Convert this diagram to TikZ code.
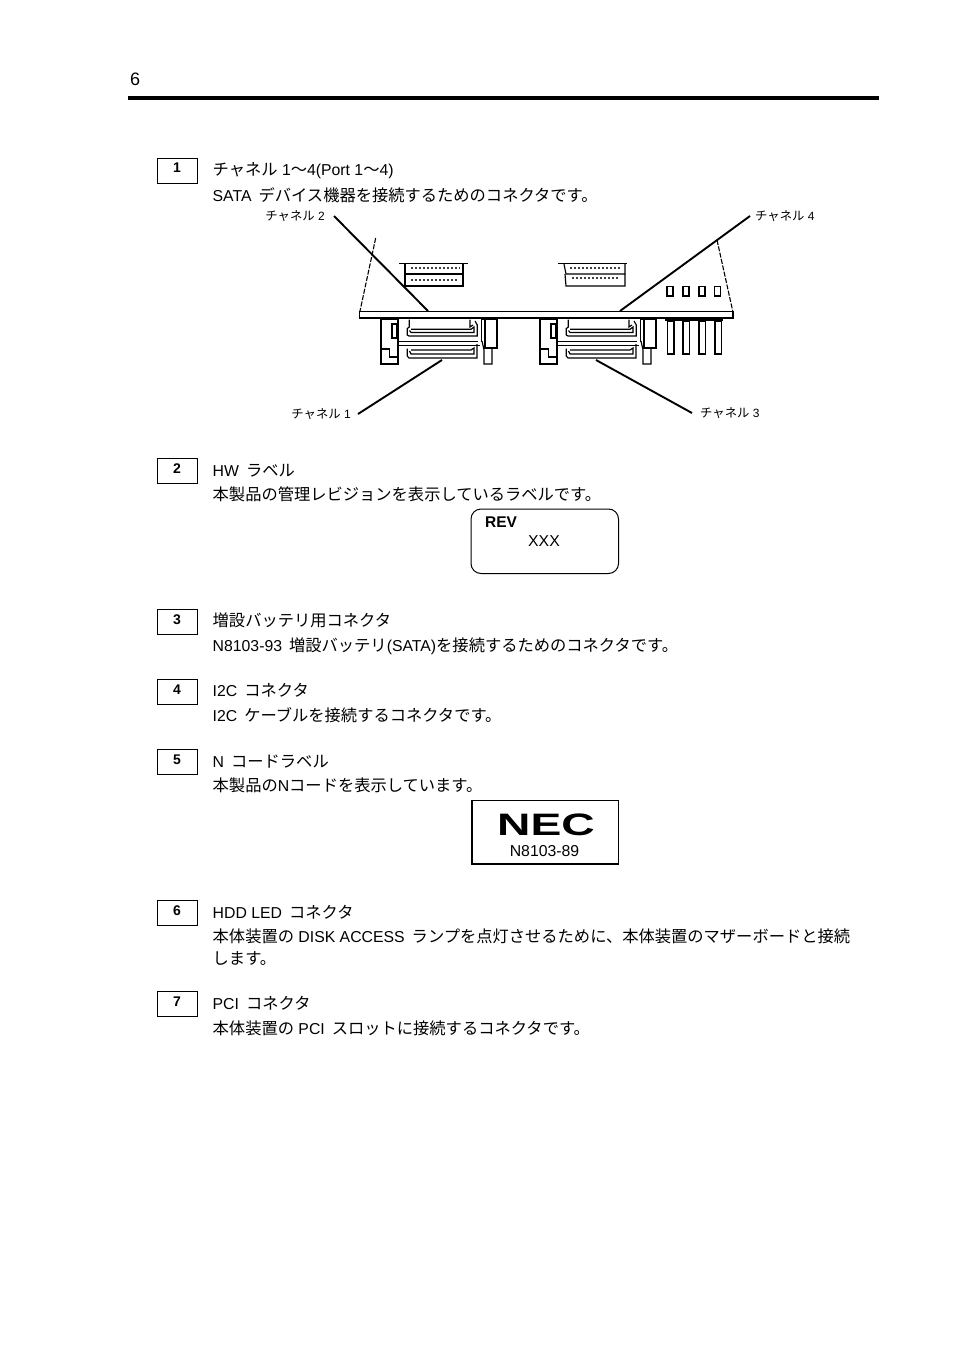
\documentclass[tikz,border=0pt]{standalone}
\usepackage{fontspec}
\setmainfont{Liberation Sans}
\newfontfamily\jp[Scale=1.03]{Noto Sans CJK JP}
\newcommand{\J}[1]{{\jp #1}}
\tikzset{
  txt/.style={anchor=base west,inner sep=0pt,font=\fontsize{15.8}{18}\selectfont},
  numbox/.style={draw,line width=1pt,minimum width=40pt,minimum height=25pt,inner sep=0pt,anchor=north west},
  numtxt/.style={anchor=base,inner sep=0pt,font=\bfseries\fontsize{14}{16}\selectfont},
  small/.style={inner sep=0pt,font=\fontsize{12}{14}\selectfont},
  leader/.style={line width=1.9pt},
  art/.style={line width=1.15pt},
  artb/.style={line width=1.7pt},
  artd/.style={line width=1.1pt,dash pattern=on 5pt off 1.5pt},
  fuzz/.style={line width=1.1pt,dash pattern=on 1.5pt off 2.5pt,black!75},
}
\newcommand{\connector}[1]{%
\begin{scope}[xshift=#1pt]
 \draw[art] (381,319) rectangle (398,364);
 \draw[art] (392,324) rectangle (397,338);
 \draw[art] (381,349) -- (389.5,349) -- (389.5,357) -- (398,357);
 \draw[art] (409.3,319.5) -- (409.3,327) -- (407.3,328.5) -- (407.3,335) -- (409,336) -- (477.3,336) -- (477.3,325) -- (475,321);
 \draw[art] (470,319.5) -- (470,327) -- (473,325);
 \draw[art] (411,329.3) -- (471,329.3) -- (474,327) -- (474,332.5) -- (411,332.5) -- (409.5,330.5);
 \draw[art] (398,341.7) -- (478,341.7);
 \draw[art] (398,345.7) -- (480,345.7);
 \draw[art] (407.3,348.5) -- (407.3,356) -- (409,358) -- (477,358) -- (477,344);
 \draw[art] (411,350) -- (471,350) -- (474,348) -- (474,354) -- (411,354) -- (409.5,351);
 \draw[art] (482,319) -- (497,319) -- (497,348) -- (485,348) -- (485,319);
 \draw[art] (481.5,319) -- (481.5,342);
 \draw[art] (482,341) -- (484,350) -- (484,364) -- (492,364) -- (492,348);
\end{scope}}
\begin{document}
\begin{tikzpicture}[x=1pt,y=-1pt]
\useasboundingbox (0,0) rectangle (954,1351);
\fill[white] (0,0) rectangle (954,1351);
% header
\node[txt,font=\fontsize{18}{20}\selectfont] (pg) at (130,86) {6};
\fill (128,96) rectangle (879,100);
% numbered boxes
\node[numbox] (b1) at (157,158) {}; \node[numtxt] (n1) at (177,173) {1};
\node[numbox] (b2) at (157,458) {}; \node[numtxt] (n2) at (177,473) {2};
\node[numbox] (b3) at (157,609) {}; \node[numtxt] (n3) at (177,624) {3};
\node[numbox] (b4) at (157,679) {}; \node[numtxt] (n4) at (177,694) {4};
\node[numbox] (b5) at (157,749) {}; \node[numtxt] (n5) at (177,764) {5};
\node[numbox] (b6) at (157,900) {}; \node[numtxt] (n6) at (177,915) {6};
\node[numbox] (b7) at (157,991) {}; \node[numtxt] (n7) at (177,1006) {7};
% text
\node[txt] (t1a) at (212.5,176) {\J{チャネル} 1\J{〜}4(Port 1\J{〜}4)};
\node[txt] (t1b) at (212.5,201) {SATA \,\J{デバイス機器を接続するためのコネクタです。}};
\node[txt] (t2a) at (212.5,476) {HW \,\J{ラベル}};
\node[txt] (t2b) at (212.5,500) {\J{本製品の管理レビジョンを表示しているラベルです。}};
\node[txt] (t3a) at (212.5,626) {\J{増設バッテリ用コネクタ}};
\node[txt] (t3b) at (212.5,651) {N8103-93 \,\J{増設バッテリ}(SATA)\J{を接続するためのコネクタです。}};
\node[txt] (t4a) at (212.5,696) {I2C \,\J{コネクタ}};
\node[txt] (t4b) at (212.5,721) {I2C \,\J{ケーブルを接続するコネクタです。}};
\node[txt] (t5a) at (212.5,767) {N \,\J{コードラベル}};
\node[txt] (t5b) at (212.5,791) {\J{本製品の}N\J{コードを表示しています。}};
\node[txt] (t6a) at (212.5,918) {HDD LED \,\J{コネクタ}};
\node[txt] (t6b) at (212.5,942) {\J{本体装置の} DISK ACCESS \,\J{ランプを点灯させるために、本体装置のマザーボードと接続}};
\node[txt] (t6c) at (212.5,964) {\J{します。}};
\node[txt] (t7a) at (212.5,1009) {PCI \,\J{コネクタ}};
\node[txt] (t7b) at (212.5,1034) {\J{本体装置の} PCI \,\J{スロットに接続するコネクタです。}};
% board
\draw[artb] (359.5,311.5) rectangle (733,318);
\draw[artd] (375.7,238) -- (360,311);
\draw[artd] (717,240) -- (732.7,311);
% board labels
\draw[art] (399.3,263.7) -- (468.3,263.7);
\draw[art] (405,264) -- (405,274) -- (463,274) -- (463,264);
\draw[art] (405,274) -- (405,286) -- (463,286) -- (463,274);
\draw[fuzz] (411,268) -- (460,268);
\draw[fuzz] (411,280) -- (458,280);
\draw[art] (558,263.7) -- (627.3,263.7);
\draw[art] (564,264) -- (566,274) -- (625,274) -- (625,264);
\draw[art] (565,274) -- (566,286) -- (625,286) -- (625,274);
\draw[fuzz] (570,268) -- (620,268);
\draw[fuzz] (572,278) -- (620,278);
% LEDs
\foreach \lx in {667,683,699,714.5}{\draw[artb] (\lx,286.5) rectangle ++(6,9.5);}
% pins
\draw[art] (665,319.5) -- (723,319.5);
\draw[artb] (665,320.5) -- (723,320.5);
\foreach \px in {667.5,683,699,715}{\draw[art] (\px,321) rectangle ++(6.5,33);}
% connectors
\connector{0}
\connector{159}
% REV label
\draw[line width=1pt,rounded corners=10pt] (471,509) rectangle (618.5,573.5);
\node[txt,font=\bfseries\fontsize{15.5}{18}\selectfont] (rev) at (485,527) {REV};
\node[txt] (xxx) at (528,546) {XXX};
% NEC label
\draw[line width=1.5pt] (472,800.5) rectangle (618.5,864);
\node[inner sep=0pt,anchor=base] (nec) at (546,835) {\fontsize{31}{32}\bfseries\selectfont\scalebox{1.49}[1]{NEC}};
\node[txt,anchor=base] (nc) at (544.5,856) {N8103-89};
% channel labels & leaders
\node[small,anchor=east,inner xsep=9pt] (c2) at (334,216) {\J{チャネル} 2};
\node[small,anchor=west,inner xsep=5pt] (c4) at (750,216) {\J{チャネル} 4};
\node[small,anchor=east,inner xsep=7pt] (c1) at (358,414) {\J{チャネル} 1};
\node[small,anchor=west,inner xsep=8pt] (c3) at (692,413) {\J{チャネル} 3};
\coordinate (e2) at (428,311);
\coordinate (e4) at (620,311);
\coordinate (e1) at (442,360);
\coordinate (e3) at (596,360);
\draw[leader] (c2.east) -- (e2);
\draw[leader] (c4.west) -- (e4);
\draw[leader] (c1.east) -- (e1);
\draw[leader] (c3.west) -- (e3);
\end{tikzpicture}
\end{document}
